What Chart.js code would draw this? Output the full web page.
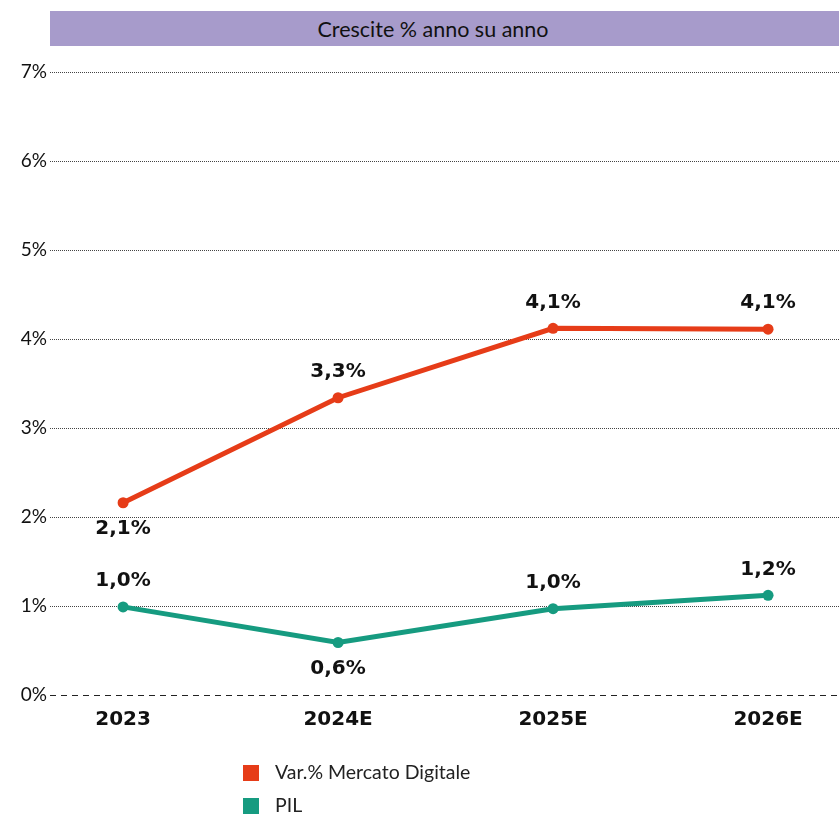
<!DOCTYPE html>
<html>
<head>
<meta charset="utf-8">
<script src="https://cdn.jsdelivr.net/npm/chart.js@4"></script>
<style>
  body { margin: 0; background: #fff; }
  #wrap { position: relative; width: 839px; height: 814px; }
  #title {
    position: absolute; left: 50px; top: 11px; width: 789px; height: 35px;
    background: #a79bcb; color: #111; font: 21.5px Lato, sans-serif;
    line-height: 36px; text-align: center; box-sizing: border-box; padding-right: 23px;
  }
  .leg { position: absolute; left: 243px; font: 19.5px Lato, sans-serif; color: #222; }
  .leg span { display: inline-block; width: 16px; height: 16px; margin-right: 16px; vertical-align: -2px; }
</style>
</head>
<body>
<div id="wrap">
  <canvas id="chart1" width="839" height="814"></canvas>
  <div id="title">Crescite % anno su anno</div>
  <div class="leg" style="top:760px"><span style="background:#e63c18"></span>Var.% Mercato Digitale</div>
  <div class="leg" style="top:793px"><span style="background:#169b80"></span>PIL</div>
</div>
<script>
var categories = ['2023', '2024E', '2025E', '2026E'];
var mercatoValues = [2.16, 3.34, 4.12, 4.11];
var pilValues = [0.99, 0.59, 0.97, 1.12];
var mercatoLabels = ['2,1%', '3,3%', '4,1%', '4,1%'];
var pilLabels = ['1,0%', '0,6%', '1,0%', '1,2%'];
var mercatoLabelPos = ['below', 'above', 'above', 'above'];
var pilLabelPos = ['above', 'below', 'above', 'above'];
var yTicks = [0, 1, 2, 3, 4, 5, 6, 7];

function toPoints(vals) {
    return vals.map(function (v, i) { return { x: i, y: v }; });
}

// zero line is dashed, the other grid lines are dotted
var zeroLine = {
    id: 'zeroLine',
    beforeDatasetsDraw: function (chart) {
        var ctx = chart.ctx, y = chart.scales.y.getPixelForValue(0);
        ctx.save();
        ctx.strokeStyle = '#222';
        ctx.lineWidth = 1;
        ctx.setLineDash([6, 5]);
        ctx.beginPath();
        ctx.moveTo(chart.chartArea.left, y + 0.5);
        ctx.lineTo(chart.chartArea.right, y + 0.5);
        ctx.stroke();
        ctx.restore();
    }
};

// value labels over / under the points
var valueLabels = {
    id: 'valueLabels',
    afterDatasetsDraw: function (chart) {
        var ctx = chart.ctx;
        ctx.save();
        ctx.font = 'bold 20px "DejaVu Sans", sans-serif';
        ctx.fillStyle = '#111';
        ctx.textAlign = 'center';
        ctx.textBaseline = 'middle';
        chart.data.datasets.forEach(function (ds, di) {
            var meta = chart.getDatasetMeta(di);
            meta.data.forEach(function (pt, i) {
                var off = ds.labelPos[i] == 'below' ? 26 : -26;
                ctx.fillText(ds.valueLabels[i], pt.x, pt.y + off);
            });
        });
        ctx.restore();
    }
};

new Chart(document.getElementById('chart1'), {
    type: 'line',
    data: {
        datasets: [{
            label: 'Var.% Mercato Digitale',
            data: toPoints(mercatoValues),
            valueLabels: mercatoLabels,
            labelPos: mercatoLabelPos,
            borderColor: '#e63c18',
            backgroundColor: '#e63c18',
            borderWidth: 5,
            pointRadius: 5.5,
            pointBorderWidth: 0,
            tension: 0
        }, {
            label: 'PIL',
            data: toPoints(pilValues),
            valueLabels: pilLabels,
            labelPos: pilLabelPos,
            borderColor: '#169b80',
            backgroundColor: '#169b80',
            borderWidth: 5,
            pointRadius: 5.5,
            pointBorderWidth: 0,
            tension: 0
        }]
    },
    options: {
        responsive: false,
        animation: false,
        layout: { autoPadding: false, padding: { top: 72, right: 0, left: 0, bottom: 0 } },
        plugins: { legend: { display: false }, tooltip: { enabled: false } },
        scales: {
            x: {
                type: 'linear',
                min: -0.34,
                max: 3.33,
                afterBuildTicks: function (scale) {
                    scale.ticks = categories.map(function (c, i) { return { value: i }; });
                },
                afterFit: function (scale) { scale.height = 119; },
                grid: { display: false, drawTicks: false },
                border: { display: false },
                ticks: {
                    padding: 13,
                    color: '#111',
                    font: { family: '"DejaVu Sans", sans-serif', size: 20, weight: 'bold' },
                    callback: function (v) { return categories[v]; }
                }
            },
            y: {
                min: 0,
                max: 7,
                afterBuildTicks: function (scale) {
                    scale.ticks = yTicks.map(function (v) { return { value: v }; });
                },
                afterFit: function (scale) { scale.width = 50; },
                grid: {
                    drawTicks: false,
                    color: function (c) { return c.tick && c.tick.value === 0 ? 'rgba(0,0,0,0)' : '#444'; },
                    lineWidth: 1
                },
                border: { display: false, dash: [1, 1] },
                ticks: {
                    padding: 3,
                    color: '#111',
                    font: { family: 'Lato, sans-serif', size: 19 },
                    callback: function (v) { return v + '%'; }
                }
            }
        }
    },
    plugins: [zeroLine, valueLabels]
});
</script>
</body>
</html>
